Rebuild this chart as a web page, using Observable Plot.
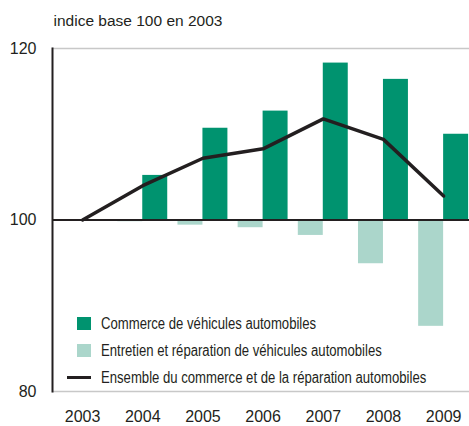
<!DOCTYPE html>
<html>
<head>
<meta charset="utf-8">
<script src="https://cdn.jsdelivr.net/npm/d3@7"></script>
<script src="https://cdn.jsdelivr.net/npm/@observablehq/plot@0.6"></script>
<style>
  html, body { margin: 0; padding: 0; background: #fff; }
  #wrap { position: relative; width: 469px; height: 426px; font-family: "Liberation Sans", Arial, sans-serif; color: #231f20; }
  .leg { position: absolute; left: 0; top: 0; font-size: 16px; }
  .row { position: absolute; display: flex; align-items: center; white-space: nowrap; }
  .sw { width: 14px; height: 13px; margin-right: 10px; flex: none; }
  .ln { width: 24px; height: 3.5px; background: #231f20; margin-right: 10px; flex: none; }
  .lab { display: inline-block; transform: scaleX(0.82); transform-origin: left center; }
</style>
</head>
<body>
<div id="wrap"></div>
<script>
const years = [2003, 2004, 2005, 2006, 2007, 2008, 2009];
const commerce = [100, 105.2, 110.7, 112.7, 118.3, 116.4, 110.0];
const entretien = [100, 99.8, 99.4, 99.1, 98.2, 94.9, 87.6];
const ensemble = [100, 104.0, 107.2, 108.3, 111.8, 109.4, 102.8];
const yTicks = [80, 100, 120];
const seriesNames = [
  "Commerce de véhicules automobiles",
  "Entretien et réparation de véhicules automobiles",
  "Ensemble du commerce et de la réparation automobiles"
];
const title = "indice base 100 en 2003";

const darkGreen = "#00936f";
const lightGreen = "#abd6cb";
const ink = "#231f20";
const barW = 0.415; // bar width in years

const table = years.map((y, i) => ({year: y, commerce: commerce[i], entretien: entretien[i], ensemble: ensemble[i]}));

const chart = Plot.plot({
  width: 469,
  height: 426,
  marginLeft: 52,
  marginRight: 0,
  marginTop: 48,
  marginBottom: 35,
  style: {fontFamily: '"Liberation Sans", Arial, sans-serif', fontSize: "16px", color: ink, background: "#fff"},
  x: {domain: [2002.5, 2009.43]},
  y: {domain: [80, 120]},
  marks: [
    Plot.ruleY([80, 120], {stroke: "#c8c8c8", strokeWidth: 1.5}),
    Plot.rect(table, {x1: d => d.year - barW, x2: "year", y1: 100, y2: "entretien", fill: lightGreen}),
    Plot.rect(table, {x1: "year", x2: d => d.year + barW, y1: 100, y2: "commerce", fill: darkGreen}),
    Plot.ruleY([100], {stroke: ink, strokeWidth: 2}),
    Plot.frame({anchor: "left", stroke: ink, strokeWidth: 2}),
    Plot.line(table, {x: "year", y: "ensemble", stroke: ink, strokeWidth: 3.5, strokeLinejoin: "miter"}),
    Plot.axisY(yTicks, {tickSize: 0, tickPadding: 16, fontSize: 16, label: null}),
    Plot.axisX(years, {tickSize: 0, tickPadding: 19, fontSize: 16, tickFormat: d => String(d), label: null}),
    Plot.text([title], {frameAnchor: "top-left", textAnchor: "start", lineAnchor: "middle", dx: 1, dy: -27, fontSize: 15.5})
  ]
});

const wrap = document.getElementById("wrap");
wrap.appendChild(chart);

const leg = document.createElement("div");
leg.className = "leg";
const rows = [
  {top: 316, left: 77, kind: "sw", color: darkGreen},
  {top: 343, left: 77, kind: "sw", color: lightGreen},
  {top: 370, left: 67, kind: "ln"}
];
rows.forEach((r, i) => {
  const row = document.createElement("div");
  row.className = "row";
  row.style.left = r.left + "px";
  row.style.top = r.top + "px";
  row.style.height = "15px";
  const key = document.createElement("div");
  key.className = r.kind;
  if (r.color) key.style.background = r.color;
  const label = document.createElement("span");
  label.className = "lab";
  label.textContent = seriesNames[i];
  row.appendChild(key);
  row.appendChild(label);
  leg.appendChild(row);
});
wrap.appendChild(leg);
</script>
</body>
</html>
